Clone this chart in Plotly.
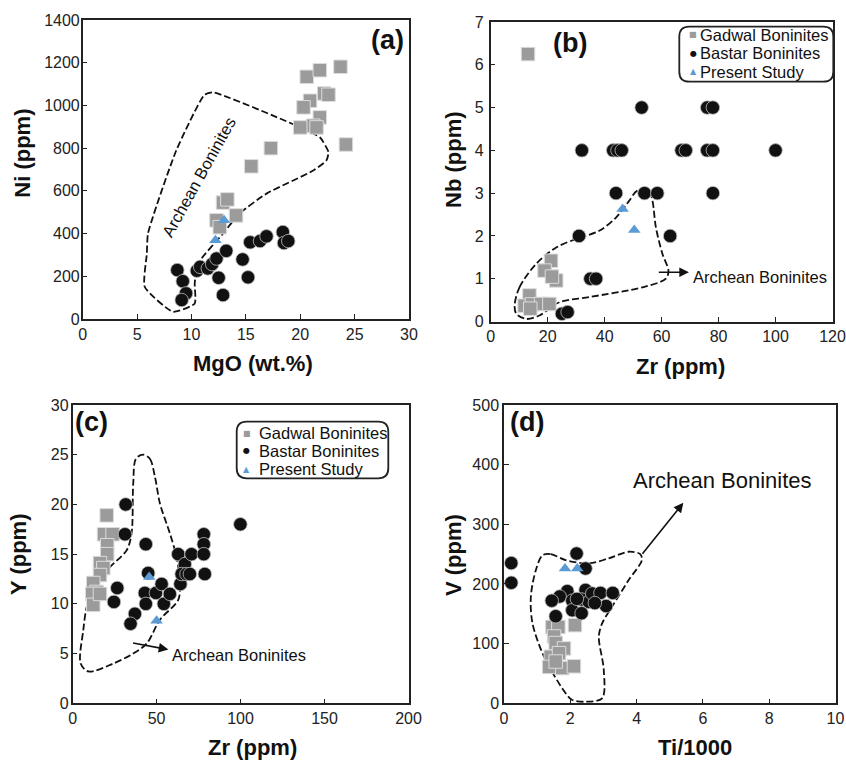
import plotly.graph_objects as go

W, H = 846, 760
GRAY = '#9b9b9b'
BLACK = '#111111'
BLUE = '#5b9bd5'
FONT = 'Arial, Liberation Sans, sans-serif'

# ---------------- Panel (a): MgO vs Ni ----------------
a_gad_mgo = [20.6, 21.8, 23.7, 22.2, 22.6, 20.9, 20.3, 21.8, 21.2, 20.0, 21.5, 24.2, 17.3, 15.5, 12.9, 13.3, 14.1, 12.3, 12.6]
a_gad_ni = [1134, 1165, 1181, 1056, 1050, 1022, 991, 944, 905, 897, 897, 817, 800, 715, 545, 560, 485, 462, 430]
a_bas_mgo = [8.7, 9.2, 9.5, 9.1, 10.5, 10.8, 11.5, 11.9, 12.3, 13.2, 12.5, 12.9, 14.7, 15.2, 15.4, 16.3, 16.9, 18.4, 18.5, 18.9]
a_bas_ni = [229, 177, 120, 89, 226, 244, 237, 257, 283, 319, 193, 112, 279, 195, 359, 365, 387, 407, 356, 365]
a_ps_mgo = [13.0, 12.2]
a_ps_ni = [462, 369]
a_fld_mgo = [12.0, 19.3, 21.8, 22.6, 22.4, 21.2, 16.9, 14.4, 12.9, 10.6, 10.3, 10.3, 8.3, 5.7, 5.9, 6.0, 8.6, 11.2, 12.0]
a_fld_ni = [1061, 913, 851, 781, 742, 695, 587, 493, 400, 260, 167, 73, 34, 151, 307, 400, 789, 1050, 1061]

# ---------------- Panel (b): Zr vs Nb ----------------
b_gad_zr = [13.1, 21.2, 18.9, 23.0, 21.5, 13.6, 11.9, 14.5, 17.7, 20.6, 13.9]
b_gad_nb = [6.25, 1.42, 1.19, 0.96, 1.05, 0.61, 0.37, 0.40, 0.41, 0.41, 0.30]
b_bas_zr = [53, 76, 78, 32, 43, 44.5, 46, 67, 68.5, 76, 78, 100, 44, 54, 58.5, 78, 31, 63, 35, 37, 25, 27]
b_bas_nb = [5, 5, 5, 4, 4, 4, 4, 4, 4, 4, 4, 4, 3, 3, 3, 3, 2, 2, 1, 1, 0.18, 0.22]
b_ps_zr = [46.3, 50.4]
b_ps_nb = [2.63, 2.14]
b_fld_zr = [8.4, 10.1, 16.0, 23.0, 30.0, 38.1, 44.0, 48.6, 51.5, 55.6, 56.8, 58.0, 60.3, 62.4, 61.5, 53.3, 34.6, 24.1, 17.1, 12.5, 9.0, 8.4]
b_fld_nb = [0.37, 0.8, 1.35, 1.73, 1.93, 2.12, 2.43, 2.82, 3.06, 3.06, 2.82, 2.2, 1.58, 1.19, 1.0, 0.8, 0.57, 0.45, 0.14, 0.06, 0.18, 0.37]

# ---------------- Panel (c): Zr vs Y ----------------
c_gad_zr = [20.3, 18.7, 23.8, 20.6, 20.6, 16.3, 18.3, 16.3, 12.3, 14.3, 11.7, 12.3, 16.3]
c_gad_y = [18.9, 17.0, 17.0, 15.9, 15.0, 14.1, 13.6, 12.9, 12.1, 11.2, 11.0, 9.9, 11.0]
c_bas_zr = [31.6, 31.2, 43.6, 45.0, 26.6, 24.6, 37.1, 34.5, 43.0, 43.6, 49.6, 53.0, 54.3, 57.9, 64.2, 62.9, 66.8, 70.8, 64.9, 67.8, 69.8, 78.1, 78.1, 78.1, 78.7, 99.9]
c_bas_y = [20.0, 17.0, 16.0, 13.1, 11.6, 10.2, 9.0, 8.0, 11.1, 10.0, 11.1, 12.0, 10.0, 11.0, 12.0, 15.0, 14.0, 15.0, 13.0, 13.0, 13.0, 17.0, 16.0, 15.0, 13.0, 18.0]
c_ps_zr = [45.6, 50.0]
c_ps_y = [12.7, 8.3]
c_fld_zr = [42.0, 46.0, 49.0, 52.0, 57.9, 61.9, 63.9, 62.9, 52.0, 44.1, 36.1, 24.2, 9.4, 4.8, 6.4, 8.4, 12.3, 22.2, 32.2, 35.1, 36.1, 37.7, 42.0]
c_fld_y = [25.0, 24.6, 22.8, 20.1, 17.1, 14.7, 12.1, 10.4, 8.4, 6.0, 5.0, 4.0, 3.2, 4.0, 7.4, 9.7, 11.7, 13.7, 15.4, 17.1, 22.1, 24.6, 25.0]

# ---------------- Panel (d): Ti/1000 vs V ----------------
d_gad_ti = [1.46, 1.64, 2.14, 1.51, 1.56, 1.81, 1.41, 1.66, 1.36, 1.76, 2.11, 1.56]
d_gad_v = [128, 128, 131, 112, 101, 92, 78, 84, 61, 59, 62, 70]
d_bas_ti = [0.22, 0.22, 2.19, 2.46, 1.91, 1.68, 1.44, 1.56, 2.06, 2.46, 2.34, 2.56, 2.66, 2.91, 3.08, 3.28, 2.06, 2.34, 2.74, 2.20]
d_bas_v = [235, 202, 251, 226, 188, 179, 172, 146, 172, 190, 174, 170, 184, 185, 163, 185, 156, 151, 168, 175]
d_ps_ti = [1.84, 2.21]
d_ps_v = [226, 226]
d_fld_ti = [1.16, 1.41, 1.86, 2.56, 3.16, 3.76, 4.11, 4.16, 3.76, 3.26, 2.96, 2.86, 3.01, 2.96, 2.46, 2.06, 1.86, 1.21, 0.86, 0.81, 0.96, 1.16]
d_fld_v = [248, 250, 240, 234.5, 243, 254, 250, 240, 206.5, 162, 134, 111.6, 55.8, 8.4, 2.7, 5.5, 16.8, 78, 134, 178.6, 223, 248]

series_names = ["Gadwal Boninites", "Bastar Boninites", "Present Study"]
legend_glyphs = ["\u25A0", "\u25CF", "\u25B2"]
field_label = "Archean Boninites"
panel_labels = ["(a)", "(b)", "(c)", "(d)"]
x_titles = ["MgO (wt.%)", "Zr (ppm)", "Zr (ppm)", "Ti/1000"]
y_titles = ["Ni (ppm)", "Nb (ppm)", "Y (ppm)", "V (ppm)"]


def px(x):
    return x / W


def py(y):
    return 1 - y / H


fig = go.Figure()

panels = [
    ("x", "y", a_fld_mgo, a_fld_ni, a_gad_mgo, a_gad_ni, a_bas_mgo, a_bas_ni, a_ps_mgo, a_ps_ni, 0.5),
    ("x2", "y2", b_fld_zr, b_fld_nb, b_gad_zr, b_gad_nb, b_bas_zr, b_bas_nb, b_ps_zr, b_ps_nb, 0.9),
    ("x3", "y3", c_fld_zr, c_fld_y, c_gad_zr, c_gad_y, c_bas_zr, c_bas_y, c_ps_zr, c_ps_y, 0.9),
    ("x4", "y4", d_fld_ti, d_fld_v, d_gad_ti, d_gad_v, d_bas_ti, d_bas_v, d_ps_ti, d_ps_v, 0.9),
]

for xa, ya, fx, fy, gx, gy, bx, by, sx, sy, sm in panels:
    fig.add_trace(go.Scatter(x=fx, y=fy, xaxis=xa, yaxis=ya, mode="lines", name=field_label,
                             line=dict(color="#111", width=1.8, dash="7px,3px", shape="spline", smoothing=sm),
                             showlegend=False, hoverinfo="skip"))
    fig.add_trace(go.Scatter(x=gx, y=gy, xaxis=xa, yaxis=ya, mode="markers", name=series_names[0],
                             marker=dict(symbol="square", size=13.5, color=GRAY, line=dict(color="#dcdcdc", width=1)),
                             showlegend=False))
    fig.add_trace(go.Scatter(x=bx, y=by, xaxis=xa, yaxis=ya, mode="markers", name=series_names[1],
                             marker=dict(symbol="circle", size=13.5, color=BLACK, line=dict(color="#bdbdbd", width=0.8)),
                             showlegend=False))
    fig.add_trace(go.Scatter(x=sx, y=sy, xaxis=xa, yaxis=ya, mode="markers", name=series_names[2],
                             marker=dict(symbol="triangle-up", size=11, color=BLUE, line=dict(width=0)),
                             showlegend=False))


def axis(domain, rng, dtick, anchor, standoff=None):
    d = dict(domain=domain, range=rng, dtick=dtick, tick0=0, ticks="inside", ticklen=5, tickwidth=1.2,
             tickcolor="#222", showline=True, linecolor="#222", linewidth=1.5, mirror=True,
             showgrid=False, zeroline=False, anchor=anchor, automargin=False,
             tickfont=dict(family=FONT, size=16, color="#222"), ticklabeloverflow="allow")
    if standoff is not None:
        d["ticklabelstandoff"] = standoff
    return d


layout = dict(
    width=W, height=H, margin=dict(l=0, r=0, t=0, b=0), paper_bgcolor="white", plot_bgcolor="white",
    showlegend=False, font=dict(family=FONT, color="#111"),
    xaxis=axis([px(82.7), px(409)], [0, 30], 5, "y"),
    yaxis=axis([py(319), py(20)], [0, 1400], 200, "x", -2),
    xaxis2=axis([px(490.7), px(832.5)], [0, 120], 20, "y2"),
    yaxis2=axis([py(321.5), py(22)], [0, 7], 1, "x2", 2),
    xaxis3=axis([px(72.6), px(408.5)], [0, 200], 50, "y3"),
    yaxis3=axis([py(703.3), py(405)], [0, 30], 5, "x3", -1),
    xaxis4=axis([px(504), px(835.5)], [0, 10], 2, "y4"),
    yaxis4=axis([py(703.3), py(405)], [0, 500], 100, "x4", 0),
)
fig.update_layout(**layout)

ann = []
# axis titles (paper positions)
xt_pos = [(253, 363), (680, 366), (252, 747), (695, 747)]
yt_pos = [(21.7, 153), (453, 160), (18, 555), (453, 555)]
for t, (x, y) in zip(x_titles, xt_pos):
    ann.append(dict(text="<b>%s</b>" % t, x=px(x), y=py(y), xref="paper", yref="paper",
                    showarrow=False, xanchor="center", yanchor="middle", font=dict(family=FONT, size=22, color="#111")))
for t, (x, y) in zip(y_titles, yt_pos):
    ann.append(dict(text="<b>%s</b>" % t, x=px(x), y=py(y), xref="paper", yref="paper", showarrow=False,
                    xanchor="center", yanchor="middle", textangle=-90, font=dict(family=FONT, size=22, color="#111")))
# panel labels
for t, (x, y) in zip(panel_labels, [(387, 40), (570, 43), (91.7, 421.7), (526.7, 421.7)]):
    ann.append(dict(text="<b>%s</b>" % t, x=px(x), y=py(y), xref="paper", yref="paper", showarrow=False,
                    xanchor="center", yanchor="middle", font=dict(family=FONT, size=27, color="#111")))

# field labels and arrows
ann.append(dict(text=field_label, x=10.67, y=664, xref="x", yref="y", showarrow=False, textangle=-61,
                xanchor="center", yanchor="middle", font=dict(family=FONT, size=16.5, color="#111")))
ann.append(dict(text="", x=69.6, y=1.15, ax=58.5, ay=1.15, xref="x2", yref="y2", axref="x2", ayref="y2",
                showarrow=True, arrowhead=2, arrowsize=1.2, arrowwidth=1.6, arrowcolor="#111"))
ann.append(dict(text=field_label, x=70.2, y=1.05, xref="x2", yref="y2", showarrow=False,
                xanchor="left", yanchor="middle", font=dict(family=FONT, size=16.5, color="#111")))
ann.append(dict(text="", x=57.0, y=5.4, ax=35.1, ay=6.1, xref="x3", yref="y3", axref="x3", ayref="y3",
                showarrow=True, arrowhead=2, arrowsize=1.2, arrowwidth=1.6, arrowcolor="#111"))
ann.append(dict(text=field_label, x=57.9, y=4.86, xref="x3", yref="y3", showarrow=False,
                xanchor="left", yanchor="middle", font=dict(family=FONT, size=16.5, color="#111")))
ann.append(dict(text="", x=5.41, y=336, ax=4.14, ay=248, xref="x4", yref="y4", axref="x4", ayref="y4",
                showarrow=True, arrowhead=2, arrowsize=1.2, arrowwidth=1.6, arrowcolor="#111"))
ann.append(dict(text=field_label, x=6.58, y=374, xref="x4", yref="y4", showarrow=False,
                xanchor="center", yanchor="middle", font=dict(family=FONT, size=22, color="#111")))

# legends (b) and (c): glyph + text rows, rounded boxes
glyph_colors = [GRAY, BLACK, BLUE]
legend_specs = [
    dict(box=(679.3, 26.7, 833.3, 81.7), gx=693.0, tx=698.3, rows=[35, 53.3, 71.7]),
    dict(box=(236.7, 421.7, 388.3, 478.3), gx=246.7, tx=256.7, rows=[433.3, 450.7, 469.3]),
]
shapes = []


def rrect(x0, y0, x1, y1, r):
    def P(x, y):
        return "%.5f,%.5f" % (px(x), py(y))
    return ("M %s L %s Q %s %s L %s Q %s %s L %s Q %s %s L %s Q %s %s Z" % (
        P(x0 + r, y0), P(x1 - r, y0), P(x1, y0), P(x1, y0 + r), P(x1, y1 - r), P(x1, y1), P(x1 - r, y1),
        P(x0 + r, y1), P(x0, y1), P(x0, y1 - r), P(x0, y0 + r), P(x0, y0), P(x0 + r, y0)))


for spec in legend_specs:
    x0, y0, x1, y1 = spec["box"]
    shapes.append(dict(type="path", xref="paper", yref="paper", path=rrect(x0, y0, x1, y1, 10),
                       line=dict(color="#222", width=1.8), fillcolor="rgba(255,255,255,0)"))
    for name, g, c, ry in zip(series_names, legend_glyphs, glyph_colors, spec["rows"]):
        ann.append(dict(text=g, x=px(spec["gx"]), y=py(ry), xref="paper", yref="paper", showarrow=False,
                        xanchor="center", yanchor="middle", font=dict(family="DejaVu Sans", size=8, color=c)))
        ann.append(dict(text=name, x=px(spec["tx"]), y=py(ry), xref="paper", yref="paper", showarrow=False,
                        xanchor="left", yanchor="middle", font=dict(family=FONT, size=16.5, color="#111")))

fig.update_layout(annotations=ann, shapes=shapes)
fig.write_html("out.html")
